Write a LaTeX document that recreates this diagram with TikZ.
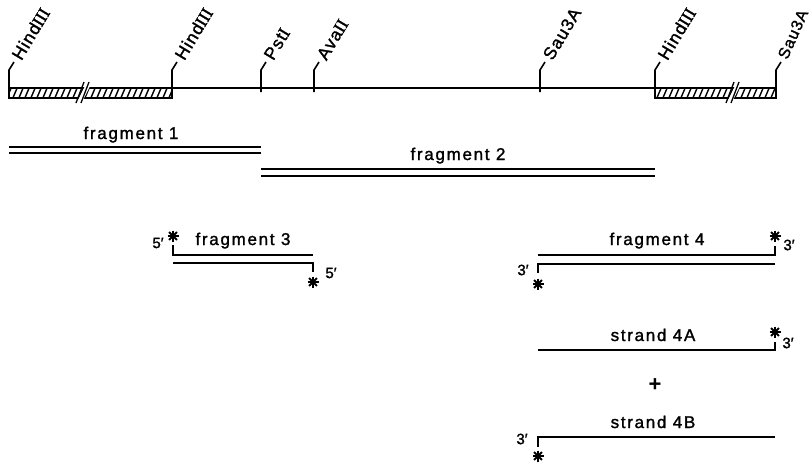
\documentclass[tikz,border=0pt]{standalone}
\usepackage{fontspec}
\setmainfont{Liberation Sans}
\newfontfamily\rmnum[FakeBold=1.5]{Liberation Serif}
\newfontfamily\lblfont[LetterSpace=10,FakeBold=1.5]{Liberation Sans}
\newfontfamily\sitefont[LetterSpace=6,FakeBold=1.5]{Liberation Sans}
\newfontfamily\endfont[FakeBold=1.5]{Liberation Sans}
\begin{document}
\begin{tikzpicture}[x=1pt,y=1pt,
  line width=1.8pt,
  lbl/.style={font=\lblfont\fontsize{17}{19}\selectfont, inner sep=0pt},
  site/.style={font=\sitefont\fontsize{17.5}{19}\selectfont, inner sep=0pt, anchor=base west, rotate=59},
  endlbl/.style={font=\endfont\fontsize{15}{17}\selectfont, inner sep=0pt},
  astpic/.pic={\foreach \a in {0,45,90,135} \draw[line width=1.8pt] (\a:5.5) -- (\a+180:5.5);
     \fill (0,0) circle (2.4);},
  hatchbox/.style={line width=1.6pt}]
\useasboundingbox (0,-463) rectangle (810,0);

% ---- map line
\coordinate (h1) at (9,-88);
\coordinate (h2) at (172,-88);
\coordinate (p1) at (261,-88);
\coordinate (a1) at (314,-88);
\coordinate (s1) at (540,-88);
\coordinate (h3) at (655,-88);
\coordinate (s2) at (776,-88);
\draw (h2) -- (h3);

% hatched boxes
\begin{scope}
  \clip (9,-88) rectangle (172,-98);
  \foreach \i in {0,6,...,180} \draw[line width=1.4pt] (\i,-100) -- (\i+6,-86);
\end{scope}
\begin{scope}
  \clip (655,-88) rectangle (776,-98);
  \foreach \i in {650,656,...,790} \draw[line width=1.4pt] (\i,-100) -- (\i+6,-86);
\end{scope}
\draw[hatchbox] (9,-88) rectangle (172,-98);
\draw[hatchbox] (655,-88) rectangle (776,-98);
% breaks
\fill[white] (78,-100) -- (85,-86) -- (90,-86) -- (83,-100) -- cycle;
\draw[line width=1.3pt] (76,-103) -- (84,-82) (81,-103) -- (89,-82);
\fill[white] (728,-100) -- (735,-86) -- (740,-86) -- (733,-100) -- cycle;
\draw[line width=1.3pt] (726,-103) -- (734,-82) (731,-103) -- (739,-82);

% ticks and labels
\foreach \c/\t in {h1/{Hind{\rmnum III}}, h2/{Hind{\rmnum III}}, p1/{Pst{\rmnum I}}, a1/{Ava{\rmnum II}}, s1/{Sau3A}, h3/{Hind{\rmnum III}}}{
  \draw[line width=1.6pt] ([yshift=-4]\c) -- ([yshift=18]\c) -- ([xshift=5,yshift=26]\c);
  \node[site] (n\c) at ([xshift=12,yshift=26]\c) {\t};
}
\draw[line width=1.6pt] ([yshift=-4]s2) -- ([yshift=18]s2) -- ([xshift=5,yshift=26]s2);
\node[site, rotate=7, font=\sitefont\fontsize{16}{18}\selectfont] (ns2) at ([xshift=11,yshift=27]s2) {Sau3A};

% ---- fragment 1 and 2
\coordinate (f1a) at (9,-147);  \coordinate (f1b) at (261,-147);
\coordinate (f1c) at (9,-153);  \coordinate (f1d) at (261,-153);
\draw (f1a) -- (f1b) (f1c) -- (f1d);
\node[lbl, anchor=base] (lf1) at (131,-139) {fragment 1};
\coordinate (f2a) at (261,-169); \coordinate (f2b) at (655,-169);
\coordinate (f2c) at (261,-176); \coordinate (f2d) at (655,-176);
\draw (f2a) -- (f2b) (f2c) -- (f2d);
\node[lbl, anchor=base] (lf2) at (458,-160) {fragment 2};

% ---- fragment 3
\coordinate (f3a) at (173,-245); \coordinate (f3b) at (173,-255); \coordinate (f3c) at (313,-255);
\draw (f3a) -- (f3b) -- (f3c);
\coordinate (f3d) at (173,-263); \coordinate (f3e) at (313,-263); \coordinate (f3f) at (313,-272);
\draw (f3d) -- (f3e) -- (f3f);
\pic at (173,-236) {astpic};
\pic at (313,-282) {astpic};
\node[endlbl] (f3l1) at (158,-243) {5′};
\node[endlbl] (f3l2) at (331,-273) {5′};
\node[lbl, anchor=base] (lf3) at (243,-245) {fragment 3};

% ---- fragment 4
\coordinate (f4a) at (538,-255); \coordinate (f4b) at (775,-255); \coordinate (f4c) at (775,-246);
\draw (f4a) -- (f4b) -- (f4c);
\coordinate (f4d) at (775,-264); \coordinate (f4e) at (538,-264); \coordinate (f4f) at (538,-273);
\draw (f4d) -- (f4e) -- (f4f);
\pic at (775,-236) {astpic};
\pic at (538,-284) {astpic};
\node[endlbl] (f4l1) at (789,-245) {3′};
\node[endlbl] (f4l2) at (523,-270) {3′};
\node[lbl, anchor=base] (lf4) at (657,-245) {fragment 4};

% ---- strand 4A
\coordinate (s4a) at (538,-350); \coordinate (s4b) at (775,-350); \coordinate (s4c) at (775,-342);
\draw (s4a) -- (s4b) -- (s4c);
\pic at (775,-332) {astpic};
\node[endlbl] (s4l1) at (788,-343) {3′};
\node[lbl, anchor=base] (ls4a) at (653,-341) {strand 4A};

\node[font=\fontsize{22}{24}\selectfont\bfseries, inner sep=0pt] (plus) at (655,-385) {+};

% ---- strand 4B
\coordinate (s4d) at (775,-437); \coordinate (s4e) at (538,-437); \coordinate (s4f) at (538,-447);
\draw (s4d) -- (s4e) -- (s4f);
\pic at (538,-456) {astpic};
\node[endlbl] (s4l2) at (522,-439) {3′};
\node[lbl, anchor=base] (ls4b) at (653,-428) {strand 4B};
\end{tikzpicture}
\end{document}
